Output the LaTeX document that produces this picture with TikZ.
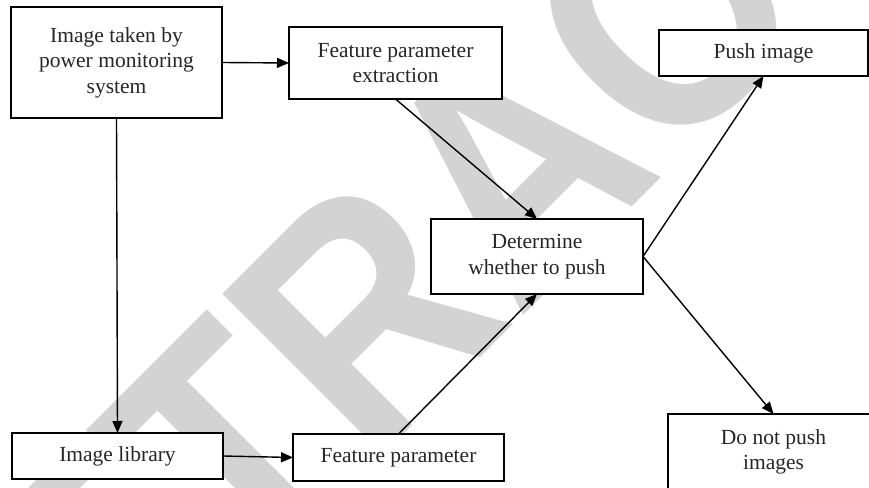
\documentclass[tikz,border=0pt]{standalone}
\usepackage{fontspec}
\setmainfont{Liberation Serif}
\newfontfamily\wmfont{Liberation Sans}
\usetikzlibrary{arrows.meta}
\definecolor{wmgray}{RGB}{211,211,211}
\tikzset{
  box/.style={draw=black, line width=1.8pt, fill=white, inner sep=0pt, outer sep=0pt,
    align=center, font=\fontsize{21.5pt}{25.5pt}\selectfont, text=black!85},
  conn/.style={line width=1.4pt, -{Triangle[length=12pt,width=10pt]}},
  wmark/.style={inner sep=0pt, text=wmgray, font=\wmfont\bfseries\fontsize{330pt}{330pt}\selectfont}
}
\begin{document}
\begin{tikzpicture}[x=1pt,y=1pt]
\useasboundingbox (0,0) rectangle (869,487);
\fill[white] (0,0) rectangle (869,487);
\begin{scope}
\clip (0,0) rectangle (869,487);
\node[wmark, rotate=45, xscale=0.88] (wm) at (512,321.5) {RETRACTED};
\end{scope}
% boxes
\node[box, minimum width=211pt, minimum height=111pt] (A) at (116.5,424.5) {Image taken by\\power monitoring\\system};
\node[box, minimum width=213pt, minimum height=72pt] (B) at (395.5,424) {Feature parameter\\extraction};
\node[box, minimum width=212pt, minimum height=75pt] (C) at (537,230.5) {Determine\\whether to push};
\node[box, minimum width=209pt, minimum height=46pt] (D) at (763.5,434) {Push image};
\node[box, minimum width=211pt, minimum height=46pt] (E) at (117.5,31) {Image library};
\node[box, minimum width=211pt, minimum height=47pt] (F) at (398.5,29.5) {Feature parameter};
\node[box, minimum width=211pt, minimum height=76pt] (G) at (773.5,35) {Do not push\\images};
% connectors
\draw[conn] (A.east) -- (B.west);
\draw[conn] (A.south) -- (E.north);
\draw[conn] (E.east) -- (F.west);
\draw[conn] (B.south) -- (C.north);
\draw[conn] (F.north) -- (C.south);
\draw[conn] (C.east) -- (D.south);
\draw[conn] (C.east) -- (G.north);
\end{tikzpicture}
\end{document}
